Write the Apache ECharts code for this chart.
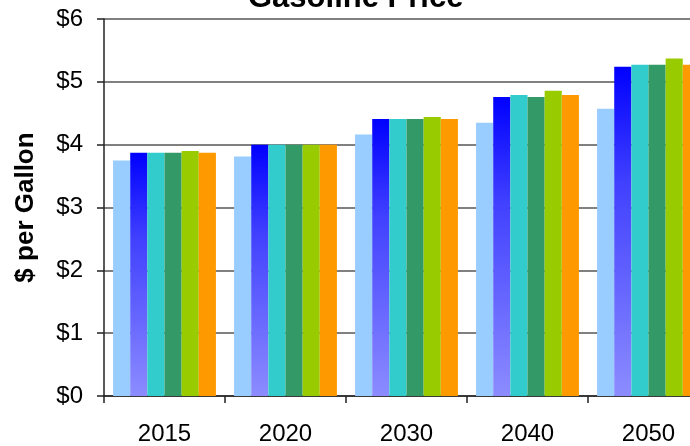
<!DOCTYPE html>
<html>
<head>
<meta charset="utf-8">
<script src="https://cdn.jsdelivr.net/npm/echarts@6/dist/echarts.min.js"></script>
<style>html,body{margin:0;padding:0;background:#fff;overflow:hidden;width:690px;height:446px;}#c{width:712px;height:446px;}</style>
</head>
<body>
<div id="c"></div>
<script>
var categories = ['2015', '2020', '2030', '2040', '2050'];
var seriesA = [3.75, 3.81, 4.16, 4.35, 4.57];
var seriesB = [3.87, 4.00, 4.41, 4.76, 5.24];
var seriesC = [3.87, 4.00, 4.41, 4.79, 5.27];
var seriesD = [3.87, 4.00, 4.41, 4.76, 5.27];
var seriesE = [3.90, 4.00, 4.44, 4.86, 5.37];
var seriesF = [3.87, 4.00, 4.41, 4.79, 5.27];
var yTicks = [0, 1, 2, 3, 4, 5, 6];

var font = 'Liberation Sans, Arial, sans-serif';
var chart = echarts.init(document.getElementById('c'));
function bar(data, color) {
  return { type: 'bar', data: data, barGap: '0%', barCategoryGap: '15%',
    itemStyle: { color: color }, animation: false };
}
chart.setOption({
  animation: false,
  title: { text: 'Gasoline Price', left: 243, top: -22,
    textStyle: { fontFamily: font, fontSize: 31, fontWeight: 'bold', color: '#000' } },
  grid: { left: 104, top: 19, width: 605, bottom: 49, containLabel: false },
  xAxis: {
    type: 'category', data: categories,
    axisLine: { lineStyle: { color: '#222', width: 1.5 } },
    axisTick: { show: true, length: 7, lineStyle: { color: '#222', width: 1.5 } },
    axisLabel: { fontFamily: font, fontSize: 24, color: '#000', margin: 26 }
  },
  yAxis: {
    type: 'value', min: yTicks[0], max: yTicks[yTicks.length - 1], interval: 1,
    name: '$ per Gallon', nameLocation: 'middle', nameRotate: 90, nameGap: 65,
    nameTextStyle: { fontFamily: font, fontSize: 26, fontWeight: 'bold', color: '#000' },
    axisLine: { show: true, lineStyle: { color: '#222', width: 1.5 } },
    axisTick: { show: true, length: 7, lineStyle: { color: '#222', width: 1.5 } },
    splitLine: { show: true, lineStyle: { color: '#808080', width: 2 } },
    axisLabel: { fontFamily: font, fontSize: 24, color: '#000', margin: 21,
      formatter: function (v) { return '$' + v; } }
  },
  series: [
    bar(seriesA, '#99CCFF'),
    bar(seriesB, new echarts.graphic.LinearGradient(0, 0, 0, 1, [
      { offset: 0, color: '#0000FF' }, { offset: 0.35, color: '#4040FF' }, { offset: 1, color: '#8C8CFF' }])),
    bar(seriesC, '#33CCCC'),
    bar(seriesD, '#339966'),
    bar(seriesE, '#99CC00'),
    bar(seriesF, '#FF9900')
  ]
});
</script>
</body>
</html>
